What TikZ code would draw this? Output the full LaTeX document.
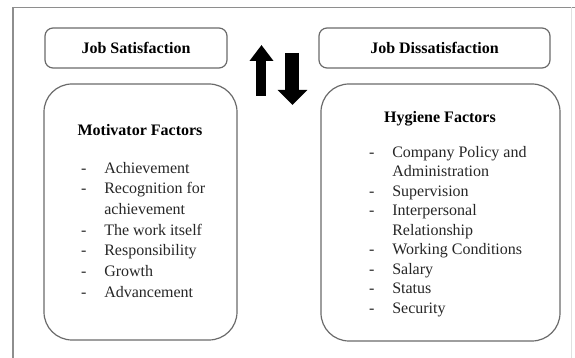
\documentclass[tikz,border=0pt]{standalone}
\usepackage{fontspec}
\setmainfont{Liberation Serif}
\usetikzlibrary{positioning,arrows.meta}
\definecolor{frameGray}{HTML}{8E8E8E}
\definecolor{boxGray}{HTML}{6A6A6A}
\definecolor{inkGray}{HTML}{262626}

\begin{document}
\begin{tikzpicture}[x=0.5pt,y=-0.5pt,
  every node/.style={font=\fontsize{8}{10}\selectfont,text=inkGray},
  headbox/.style={draw=boxGray,line width=0.6pt,rounded corners=4pt,minimum height=20pt,
    font=\fontsize{8}{10}\selectfont\bfseries,text=black},
  factorbox/.style={draw=boxGray,line width=0.6pt,rounded corners=14pt},
  factortitle/.style={anchor=base,inner sep=0pt,font=\fontsize{8}{10}\selectfont\bfseries,text=black},
  factorlist/.style={anchor=north west,inner sep=0pt}]
\useasboundingbox (0,0) rectangle (575,358);
\clip (0,0) rectangle (575,358);
% outer frame
\draw[frameGray,line width=0.8pt] (13,400) -- (13,7.5) -- (600,7.5);
\draw[black!12,line width=0.5pt] (572,7.5) -- (572,400);
% headings
\node[headbox,minimum width=91pt] (sat) at (136,48) {Job Satisfaction};
\node[headbox,minimum width=115.5pt] (dissat) at (434.5,48) {Job Dissatisfaction};
% up / down arrows
\coordinate (upTail) at (261.5,96);
\coordinate (upTip) at (261.5,45);
\coordinate (downTail) at (292.5,53);
\coordinate (downTip) at (292.5,105);
\draw[line width=5pt,-{Triangle[length=8pt,width=11.5pt]}] (upTail) -- (upTip);
\draw[line width=7pt,-{Triangle[length=7.5pt,width=14.5pt]}] (downTail) -- (downTip);
% motivator factors
\node[factorbox,minimum width=96.5pt,minimum height=128pt] (motiv) at (140.5,212) {};
\node[factortitle] (motivTitle) at (140,135.4) {Motivator Factors};
\node[factorlist,font=\fontsize{8}{10.33}\selectfont] (motivList) at (80.7,158.3) {%
  \begin{tabular}{@{}p{11.6pt}@{}l@{}}
  - & Achievement\\
  - & Recognition for\\
    & achievement\\
  - & The work itself\\
  - & Responsibility\\
  - & Growth\\
  - & Advancement
  \end{tabular}};
% hygiene factors
\node[factorbox,minimum width=119.5pt,minimum height=128.5pt] (hyg) at (440.5,212.5) {};
\node[factortitle] (hygTitle) at (440,122.4) {Hygiene Factors};
\node[factorlist,font=\fontsize{8}{9.75}\selectfont] (hygList) at (368.7,143) {%
  \begin{tabular}{@{}p{11.6pt}@{}l@{}}
  - & Company Policy and\\
    & Administration\\
  - & Supervision\\
  - & Interpersonal\\
    & Relationship\\
  - & Working Conditions\\
  - & Salary\\
  - & Status\\
  - & Security
  \end{tabular}};
\end{tikzpicture}
\end{document}
